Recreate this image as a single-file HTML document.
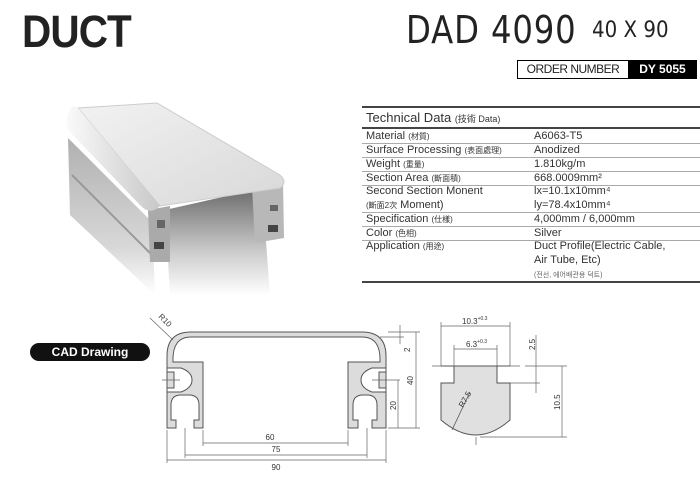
<!DOCTYPE html>
<html><head><meta charset="utf-8"><style>
body{margin:0;width:700px;height:483px;background:#fff;position:relative;overflow:hidden;font-family:"Liberation Sans","Noto Sans CJK KR",sans-serif;color:#222}
.a{position:absolute;white-space:nowrap}
.r{position:absolute;left:366px;font-size:11px;color:#333}
.v{position:absolute;left:534px;font-size:11px;color:#333}
.s{font-size:8px}
.ln{position:absolute;left:362px;width:338px;height:1px;background:#aaa}
</style></head><body>
<div class="a" style="left:22px;top:6px;font-size:45px;font-weight:bold;letter-spacing:-1px;transform:scaleX(0.9);transform-origin:left">DUCT</div>
<div class="a" style="left:406px;top:8px;font-size:38px;letter-spacing:1px;transform:scaleX(0.85);transform-origin:left;font-family:'DejaVu Sans',sans-serif">DAD 4090</div>
<div class="a" style="left:592px;top:18px;font-size:22px;transform:scaleX(0.9);transform-origin:left;font-family:'DejaVu Sans',sans-serif">40 X 90</div>
<div class="a" style="left:517px;top:60px;width:110px;height:17px;border:1px solid #000;font-size:12px;line-height:17px;text-align:center;letter-spacing:-0.5px">ORDER NUMBER</div>
<div class="a" style="left:628px;top:60px;width:69px;height:19px;background:#000;color:#fff;font-size:12px;font-weight:bold;line-height:19px;text-align:center">DY 5055</div>

<svg class="a" style="left:0;top:0" width="700" height="483">
<defs>
<linearGradient id="tp" x1="0" y1="0" x2="1" y2="1"><stop offset="0" stop-color="#f2f2f2"/><stop offset="1" stop-color="#d8d8d8"/></linearGradient>
<linearGradient id="dk" x1="0" y1="0" x2="0" y2="1"><stop offset="0" stop-color="#6a6a6a"/><stop offset="0.6" stop-color="#ccc"/><stop offset="1" stop-color="#fff"/></linearGradient>
<linearGradient id="sd" x1="0" y1="0" x2="0" y2="1"><stop offset="0" stop-color="#b0b0b0"/><stop offset="0.7" stop-color="#d8d8d8"/><stop offset="1" stop-color="#fff"/></linearGradient>
<linearGradient id="rd" x1="0" y1="0" x2="1" y2="0"><stop offset="0" stop-color="#fafafa"/><stop offset="1" stop-color="#c8c8c8"/></linearGradient>
</defs>
<polygon points="68,138 152,222 155,295 70,215" fill="url(#sd)"/>
<path d="M72,175 L152,255" stroke="#999" stroke-width="2"/>
<polygon points="165,210 262,188 270,295 170,295" fill="url(#dk)"/>
<polygon points="252,186 283,180 284,238 255,243" fill="#b8b8b8"/>
<polygon points="148,210 170,206 170,262 150,262" fill="#aaa"/>
<rect x="154" y="242" width="10" height="7" fill="#444"/><rect x="268" y="225" width="10" height="7" fill="#444"/>
<rect x="157" y="220" width="8" height="8" fill="#666"/><rect x="270" y="205" width="8" height="6" fill="#666"/>
<path d="M78,108 L157,103 L280,175 Q288,182 280,188 L160,206 Z" fill="url(#tp)" stroke="#ccc"/>
<path d="M70,110 Q70,104 78,108 L160,206 Q150,216 140,205 L68,130 Q64,118 70,110 Z" fill="url(#rd)"/>
<rect x="30" y="343" width="120" height="18" rx="9" fill="#111"/>
<text x="90" y="356" font-size="12" font-weight="bold" fill="#fff" text-anchor="middle" font-family="Liberation Sans">CAD Drawing</text>
<g stroke="#555" stroke-width="1" fill="none">
<path d="M167,428 L167,356 Q167,332 191,332 L362,332 Q386,332 386,356 L386,428 L372,428 L372,420 L377,420 L377,405 Q377,395 367,395 L363,395 Q353,395 353,405 L353,420 L358,420 L358,428 L348,428 L348,362 L380,362 Q381,337 362,337 L191,337 Q172,337 173,362 L203,362 L203,428 L194,428 L194,420 L199,420 L199,405 Q199,395 189,395 L181,395 Q171,395 171,405 L171,420 L176,420 L176,428 Z" fill="#dcdcdc"/>
<path d="M167,368 L181,368 Q192,372 192,380 Q192,388 181,392 L167,392 L167,388 L174,388 L174,372 L167,372 Z" fill="#fff"/>
<path d="M386,368 L372,368 Q361,372 361,380 Q361,388 372,392 L386,392 L386,388 L379,388 L379,372 L386,372 Z" fill="#fff"/>
<path d="M173,362 L203,362 M348,362 L380,362" />
</g>
<g stroke="#666" stroke-width="0.7" fill="none">
<path d="M162,380 L180,380 M372,380 L400,380 M388,332 L420,332 M388,428 L420,428 M380,337 L404,337"/>
<path d="M416,332 L416,428 M398,380 L398,428 M400,325 L400,344"/>
<path d="M203,430 L203,446 M348,430 L348,446 M185,428 L185,458 M367,428 L367,458 M167,430 L167,463 M386,430 L386,463"/>
<path d="M203,443 L348,443 M185,455 L367,455 M167,460 L386,460"/>
<path d="M150,318 L173,340"/>
<path d="M441,322 L441,366 M510,322 L510,366 M454,345 L454,366 M497,345 L497,366 M441,326 L510,326 M454,349 L497,349"/>
<path d="M432,366 L520,366 M525,366 L567,366 M498,383 L540,383 M480,437 L567,437 M536,335 L536,393 M562,366 L562,437"/>
<path d="M476,367 L476,445" stroke-dasharray="10,4"/>
</g>
<path d="M441,366 L454,366 L454,383 L441,383 L441,420 Q476,450 510,420 L510,383 L497,383 L497,366 L510,366" fill="#e0e0e0" stroke="#555"/>
<path d="M454,366 L497,366" stroke="#555" fill="none"/>
<path d="M470,392 L452,430" stroke="#555" stroke-width="0.8"/>
<g font-size="8" fill="#333" font-family="Liberation Sans">
<text x="270" y="440" text-anchor="middle">60</text>
<text x="276" y="452" text-anchor="middle">75</text>
<text x="276" y="470" text-anchor="middle">90</text>
<text transform="translate(158,317) rotate(45)">R10</text>
<text transform="translate(410,352) rotate(-90)">2</text>
<text transform="translate(413,385) rotate(-90)">40</text>
<text transform="translate(396,410) rotate(-90)">20</text>
<text x="462" y="324">10.3<tspan font-size="5" dy="-4">+0.3</tspan></text>
<text x="466" y="347">6.3<tspan font-size="5" dy="-4">+0.3</tspan></text>
<text transform="translate(535,350) rotate(-90)">2.5</text>
<text transform="translate(560,410) rotate(-90)">10.5</text>
<text transform="translate(463,408) rotate(-60)">R7.5</text>
</g>
</svg>

<div class="a" style="left:362px;top:106px;width:338px;height:2px;background:#444"></div>
<div class="a" style="left:366px;top:110px;font-size:13px;color:#333">Technical Data <span style="font-size:9px">(技術 Data)</span></div>
<div class="a" style="left:362px;top:127px;width:338px;height:2px;background:#444"></div>
<div class="r" style="top:130px">Material <span class="s">(材質)</span></div><div class="v" style="top:130px">A6063-T5</div>
<div class="ln" style="top:143px"></div>
<div class="r" style="top:144px">Surface Processing <span class="s">(表面處理)</span></div><div class="v" style="top:144px">Anodized</div>
<div class="ln" style="top:157px"></div>
<div class="r" style="top:158px">Weight <span class="s">(重量)</span></div><div class="v" style="top:158px">1.810kg/m</div>
<div class="ln" style="top:171px"></div>
<div class="r" style="top:172px">Section Area <span class="s">(斷面積)</span></div><div class="v" style="top:172px">668.0009mm²</div>
<div class="ln" style="top:185px"></div>
<div class="r" style="top:185px">Second Section Monent</div><div class="v" style="top:185px">lx=10.1x10mm⁴</div>
<div class="r" style="top:199px"><span class="s">(斷面2次</span> Moment)</div><div class="v" style="top:199px">ly=78.4x10mm⁴</div>
<div class="ln" style="top:212px"></div>
<div class="r" style="top:213px">Specification <span class="s">(仕樣)</span></div><div class="v" style="top:213px">4,000mm / 6,000mm</div>
<div class="ln" style="top:226px"></div>
<div class="r" style="top:227px">Color <span class="s">(色相)</span></div><div class="v" style="top:227px">Silver</div>
<div class="ln" style="top:240px"></div>
<div class="r" style="top:240px">Application <span class="s">(用途)</span></div><div class="v" style="top:240px">Duct Profile(Electric Cable,</div>
<div class="v" style="top:254px">Air Tube, Etc)</div>
<div class="v" style="top:270px;font-size:7px;color:#666">(전선, 에어배관용 덕트)</div>
<div class="a" style="left:362px;top:281px;width:338px;height:2px;background:#444"></div>
</body></html>
